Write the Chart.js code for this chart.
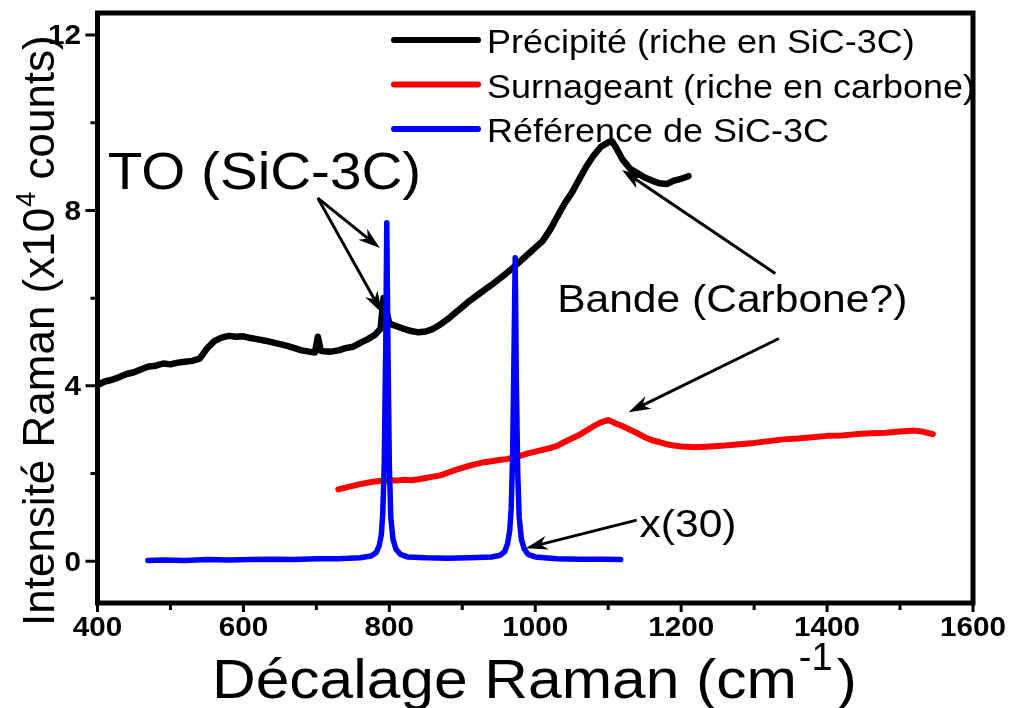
<!DOCTYPE html>
<html>
<head>
<meta charset="utf-8">
<script src="https://cdn.jsdelivr.net/npm/chart.js@4.4.1/dist/chart.umd.min.js"></script>
<style>
    body { margin: 0; background: #ffffff; }
    #wrap { width: 1013px; height: 708px; }
</style>
</head>
<body>
<div id="wrap"><canvas id="ramanChart" width="1013" height="708"></canvas></div>
<script>
// Raman shift (cm-1) and intensity (x10^4 counts) for each spectrum

const precipiteX = [400,410,420,430,440,450,460,470,480,490,500,510,520,530,540,550,560,570,580,590,600,610,620,630,640,650,660,670,680,690,698,702,706,710,720,730,740,750,760,770,780,788,792,796,800,810,820,830,840,850,860,870,880,890,900,910,920,930,940,950,960,970,980,990,1000,1010,1020,1030,1040,1050,1060,1070,1080,1090,1100,1105,1110,1120,1130,1140,1150,1160,1170,1180,1190,1200,1210];
const precipiteY = [4.02,4.10,4.14,4.20,4.27,4.31,4.38,4.44,4.46,4.51,4.49,4.53,4.55,4.57,4.62,4.85,5.02,5.10,5.14,5.12,5.13,5.09,5.06,5.03,4.99,4.95,4.91,4.86,4.81,4.78,4.76,5.12,4.80,4.79,4.78,4.81,4.86,4.89,4.98,5.06,5.16,5.30,6.00,5.70,5.42,5.36,5.30,5.25,5.22,5.24,5.30,5.40,5.52,5.66,5.80,5.94,6.06,6.18,6.30,6.43,6.56,6.70,6.85,7.00,7.15,7.30,7.55,7.85,8.15,8.40,8.70,9.00,9.25,9.45,9.55,9.58,9.45,9.15,8.95,8.85,8.75,8.68,8.62,8.60,8.68,8.72,8.78];

const surnageantX = [730,740,750,760,770,780,790,800,810,820,830,840,850,860,870,880,890,900,910,920,930,940,950,960,970,980,990,1000,1010,1020,1030,1040,1050,1060,1070,1080,1090,1100,1110,1120,1130,1140,1150,1160,1170,1180,1190,1200,1220,1240,1260,1280,1300,1320,1340,1360,1380,1400,1420,1440,1460,1480,1500,1520,1530,1545];
const surnageantY = [1.64,1.68,1.72,1.76,1.79,1.82,1.84,1.85,1.84,1.86,1.85,1.87,1.90,1.93,1.96,2.02,2.08,2.13,2.18,2.22,2.26,2.28,2.31,2.33,2.36,2.41,2.46,2.50,2.54,2.58,2.63,2.72,2.80,2.88,2.98,3.08,3.17,3.22,3.15,3.08,3.00,2.92,2.83,2.76,2.72,2.67,2.64,2.62,2.60,2.62,2.64,2.67,2.70,2.74,2.78,2.80,2.83,2.86,2.87,2.90,2.92,2.93,2.96,2.98,2.96,2.90];

// reference spectrum, already multiplied by 30
const referenceX = [469,490,520,550,580,610,640,670,700,730,760,775,782,786,789,791,793,795,796.5,798,800,802,805,809,815,825,850,880,910,940,952,958,962,965,967,969,971,972.5,974,976,978,981,985,990,1000,1030,1060,1090,1117];
const referenceY = [0.02,0.03,0.02,0.04,0.03,0.04,0.05,0.04,0.06,0.06,0.08,0.12,0.2,0.35,0.6,1.1,2.2,4.8,7.72,5.0,2.2,1.0,0.5,0.28,0.16,0.1,0.08,0.07,0.08,0.1,0.14,0.22,0.4,0.7,1.2,2.4,4.9,6.92,4.2,2.0,1.0,0.5,0.28,0.16,0.1,0.06,0.05,0.05,0.04];

const seriesLabels = [
    "Précipité (riche en SiC-3C)",
    "Surnageant (riche en carbone)",
    "Référence de SiC-3C"
];
const seriesColors = ["#000000", "#ff0000", "#0000ff"];

const xTicks = [400, 600, 800, 1000, 1200, 1400, 1600];
const xMinorTicks = [500, 700, 900, 1100, 1300, 1500];
const yTicks = [0, 4, 8, 12];
const yMinorTicks = [2, 6, 10];

function toPoints(xs, ys)
{
    return xs.map((x, i) => ({ x: x, y: ys[i] }));
}

const FONT = "'Liberation Sans', Arial, sans-serif";

function drawText(ctx, text, x, y, size, sx, align, bold)
{
    ctx.save();
    ctx.font = (bold ? "bold " : "") + size + "px " + FONT;
    ctx.textAlign = align || "left";
    ctx.textBaseline = "alphabetic";
    ctx.fillStyle = "#000000";
    ctx.translate(x, y);
    ctx.scale(sx, 1);
    ctx.fillText(text, 0, 0);
    const w = ctx.measureText(text).width * sx;
    ctx.restore();
    return w;
}

function drawArrow(ctx, x1, y1, x2, y2)
{
    const ang = Math.atan2(y2 - y1, x2 - x1);
    const c = Math.cos(ang), s = Math.sin(ang);
    const len = 22, half = 7;

    ctx.save();
    ctx.strokeStyle = "#000000";
    ctx.fillStyle = "#000000";
    ctx.lineWidth = 3;
    ctx.beginPath();
    ctx.moveTo(x1, y1);
    ctx.lineTo(x2 - len * 0.7 * c, y2 - len * 0.7 * s);
    ctx.stroke();

    ctx.beginPath();
    ctx.moveTo(x2, y2);
    ctx.lineTo(x2 - len * c - half * s, y2 - len * s + half * c);
    ctx.lineTo(x2 - len * 0.7 * c, y2 - len * 0.7 * s);
    ctx.lineTo(x2 - len * c + half * s, y2 - len * s - half * c);
    ctx.closePath();
    ctx.fill();
    ctx.restore();
}

// arrows and labels, anchored in data coordinates
const arrows = [
    { from: [702, 8.28], to: [787, 7.14] },
    { from: [702, 8.28], to: [790, 5.66] },
    { from: [1329, 6.56], to: [1119, 8.92] },
    { from: [1334, 5.08], to: [1128, 3.40] },
    { from: [1139, 0.94], to: [987, 0.30] }
];
const notes = [
    { text: "TO (SiC-3C)", at: [414, 8.48], size: 51, sx: 1.11 },
    { text: "Bande (Carbone?)", at: [1030, 5.68], size: 38, sx: 1.12 },
    { text: "x(30)", at: [1143, 0.55], size: 38, sx: 1.12 }
];

const decorPlugin = {
    id: "decor",
    afterDraw(chart)
    {
        const ctx = chart.ctx;
        const xs = chart.scales.x;
        const ys = chart.scales.y;
        const area = chart.chartArea;

        // legend
        chart.data.datasets.forEach((ds, i) =>
        {
            const rowY = 40 + i * 44.5;
            ctx.save();
            ctx.strokeStyle = ds.borderColor;
            ctx.lineWidth = 6;
            ctx.lineCap = "round";
            ctx.beginPath();
            ctx.moveTo(394, rowY);
            ctx.lineTo(478, rowY);
            ctx.stroke();
            ctx.restore();
            drawText(ctx, ds.label, 487, rowY + 13, 33, 1.09, "left", false);
        });

        // annotations
        arrows.forEach(a =>
        {
            drawArrow(
                ctx,
                xs.getPixelForValue(a.from[0]), ys.getPixelForValue(a.from[1]),
                xs.getPixelForValue(a.to[0]), ys.getPixelForValue(a.to[1])
            );
        });
        notes.forEach(n =>
        {
            drawText(ctx, n.text, xs.getPixelForValue(n.at[0]), ys.getPixelForValue(n.at[1]), n.size, n.sx, "left", false);
        });

        // frame
        ctx.save();
        ctx.strokeStyle = "#000000";
        ctx.lineWidth = 5;
        ctx.lineJoin = "miter";
        ctx.strokeRect(area.left, area.top, area.right - area.left, area.bottom - area.top);

        // ticks
        ctx.lineWidth = 3;
        ctx.beginPath();
        xTicks.forEach(v =>
        {
            const px = xs.getPixelForValue(v);
            ctx.moveTo(px, area.bottom);
            ctx.lineTo(px, area.bottom + 9);
        });
        xMinorTicks.forEach(v =>
        {
            const px = xs.getPixelForValue(v);
            ctx.moveTo(px, area.bottom);
            ctx.lineTo(px, area.bottom + 7);
        });
        yTicks.forEach(v =>
        {
            const py = ys.getPixelForValue(v);
            ctx.moveTo(area.left, py);
            ctx.lineTo(area.left - 12, py);
        });
        yMinorTicks.forEach(v =>
        {
            const py = ys.getPixelForValue(v);
            ctx.moveTo(area.left, py);
            ctx.lineTo(area.left - 7, py);
        });
        ctx.stroke();
        ctx.restore();

        // tick labels
        xTicks.forEach(v =>
        {
            drawText(ctx, String(v), xs.getPixelForValue(v), 636, 27, 1.1, "center", true);
        });
        yTicks.forEach(v =>
        {
            drawText(ctx, String(v), 81, ys.getPixelForValue(v) + 9.5, 27, 1.1, "right", true);
        });

        // x axis title
        let x = 212;
        x += drawText(ctx, "Décalage Raman (cm", x, 698, 56, 1.08, "left", false);
        x += drawText(ctx, "-1", x + 2, 670, 38, 1.0, "left", false) + 6;
        drawText(ctx, ")", x, 698, 56, 1.08, "left", false);

        // y axis title, rotated
        ctx.save();
        ctx.translate(54, 626);
        ctx.rotate(-Math.PI / 2);
        ctx.fillStyle = "#000000";
        ctx.textBaseline = "alphabetic";
        ctx.font = "44px " + FONT;
        let t = "Intensité Raman (x10";
        ctx.fillText(t, 0, 0);
        let off = ctx.measureText(t).width + 1;
        ctx.font = "27px " + FONT;
        ctx.fillText("4", off, -19);
        off += ctx.measureText("4").width;
        ctx.font = "44px " + FONT;
        ctx.fillText(" counts)", off, 0);
        ctx.restore();
    }
};

const ctx = document.getElementById("ramanChart").getContext("2d");

const ramanChart = new Chart(ctx, {
    type: "line",
    data: {
        datasets: [
            {
                label: seriesLabels[0],
                data: toPoints(precipiteX, precipiteY),
                borderColor: seriesColors[0],
                borderWidth: 6.5,
                order: 2
            },
            {
                label: seriesLabels[1],
                data: toPoints(surnageantX, surnageantY),
                borderColor: seriesColors[1],
                borderWidth: 6,
                order: 1
            },
            {
                label: seriesLabels[2],
                data: toPoints(referenceX, referenceY),
                borderColor: seriesColors[2],
                borderWidth: 5.5,
                order: 0
            }
        ]
    },
    options: {
        responsive: false,
        animation: false,
        devicePixelRatio: 1,
        layout: {
            padding: { left: 97.5, right: 40, top: 13, bottom: 105 }
        },
        elements: {
            point: { radius: 0 },
            line: {
                tension: 0,
                borderCapStyle: "round",
                borderJoinStyle: "round",
                fill: false
            }
        },
        plugins: {
            legend: { display: false },
            tooltip: { enabled: false }
        },
        scales: {
            x: { type: "linear", display: false, min: 400, max: 1600 },
            y: { type: "linear", display: false, min: -0.95, max: 12.5 }
        }
    },
    plugins: [decorPlugin]
});
</script>
</body>
</html>
